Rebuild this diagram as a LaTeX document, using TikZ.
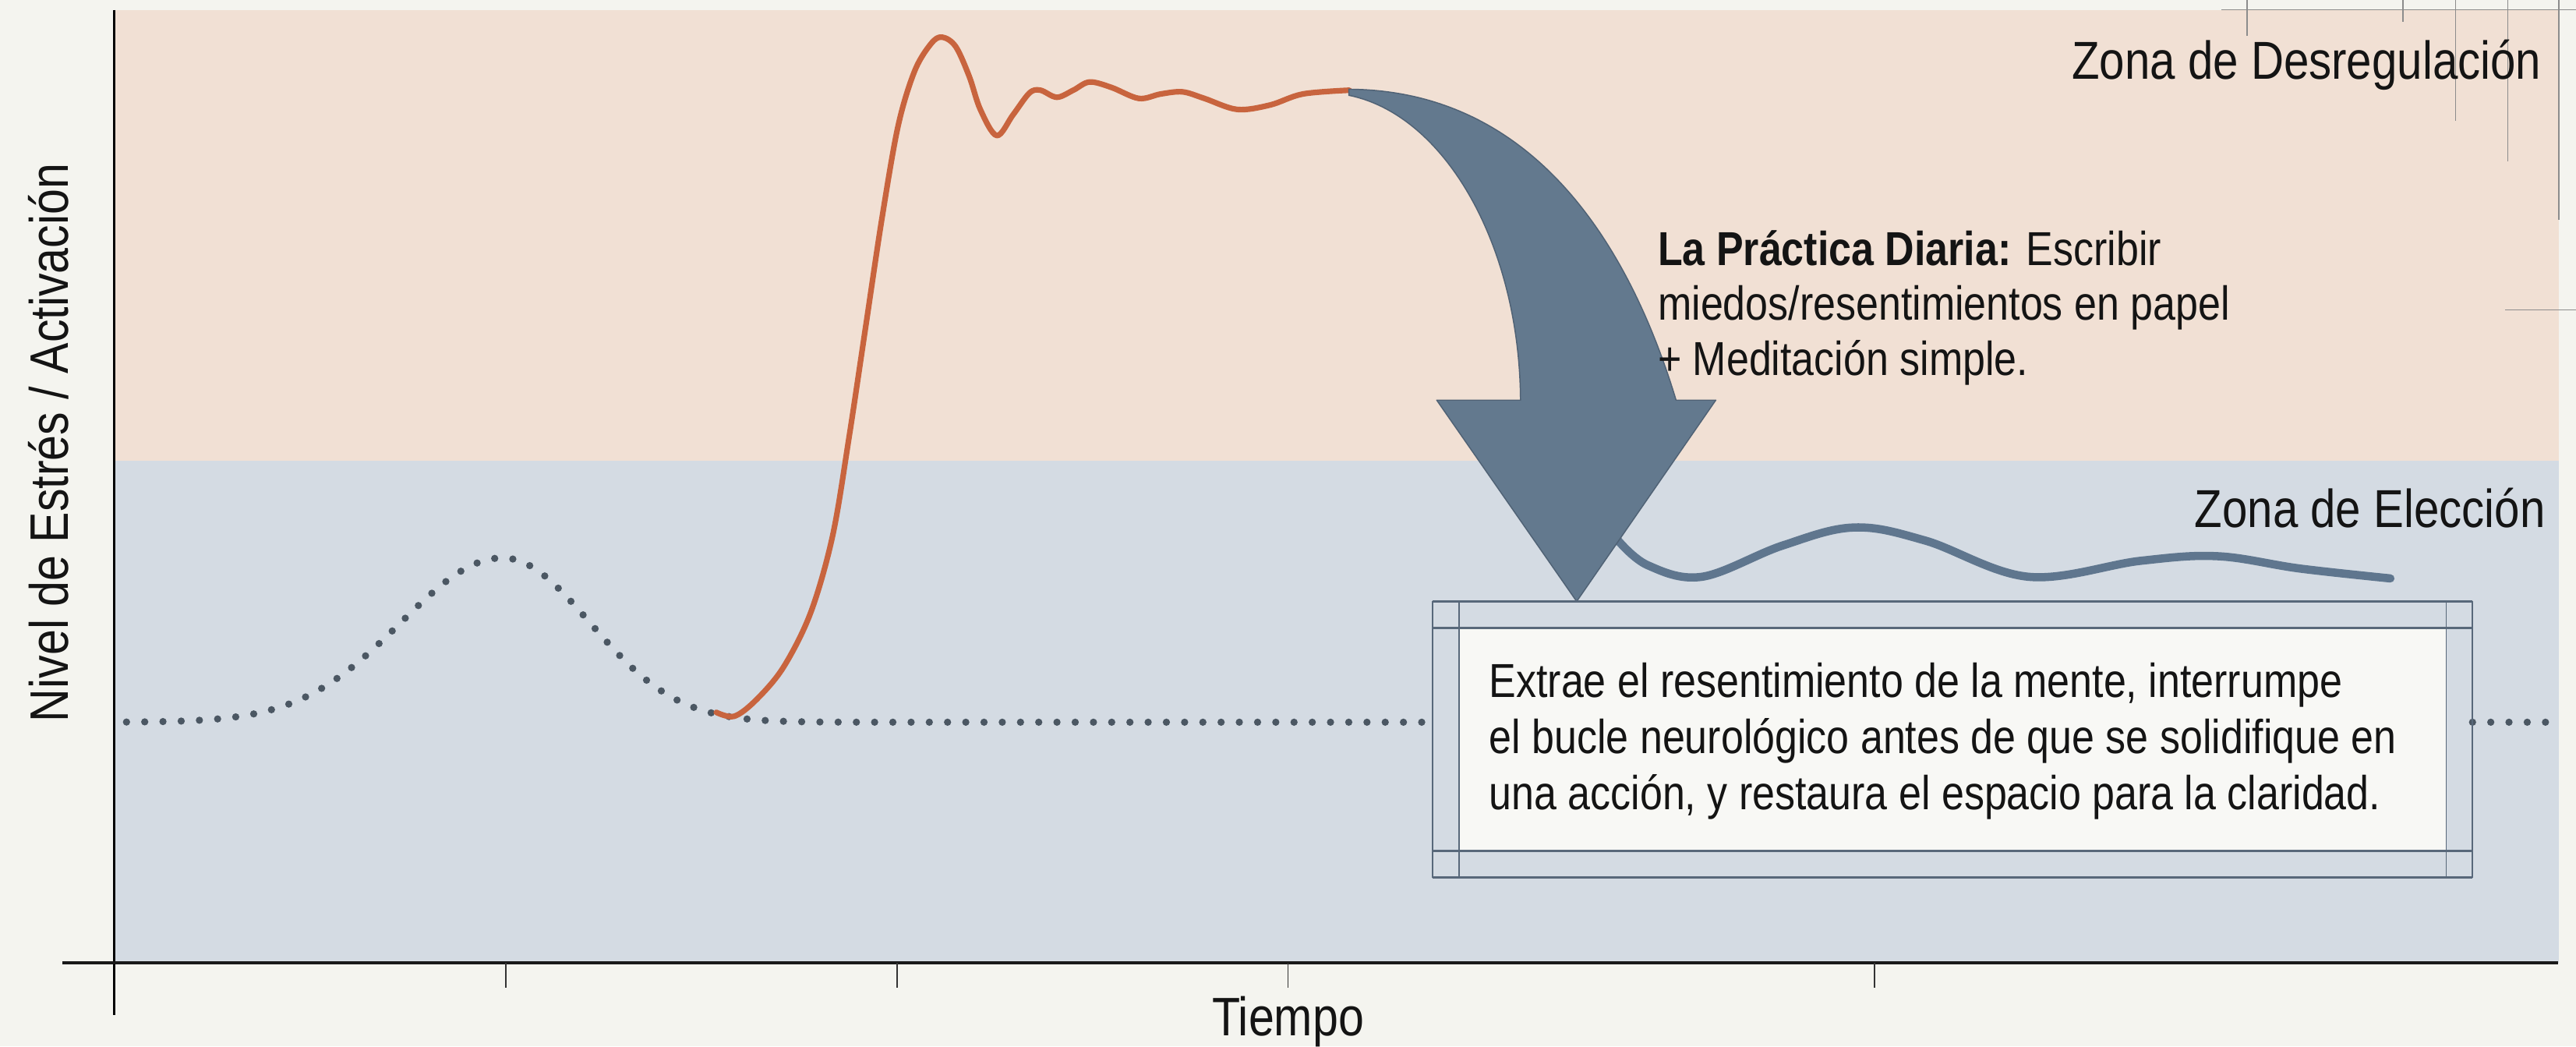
\documentclass[tikz,border=0pt]{standalone}
\usepackage{fontspec}
\setmainfont[FakeStretch=0.85]{Liberation Sans}
\definecolor{bgc}{RGB}{244,244,239}
\definecolor{peach}{RGB}{241,224,212}
\definecolor{zoneblue}{RGB}{212,219,227}
\definecolor{dotc}{RGB}{75,87,99}
\definecolor{orangec}{RGB}{200,100,62}
\definecolor{arrowc}{RGB}{99,121,142}
\definecolor{arrowedge}{RGB}{80,98,117}
\definecolor{wavec}{RGB}{95,118,142}
\definecolor{framec}{RGB}{88,104,122}
\definecolor{boxfill}{RGB}{248,248,245}
\definecolor{ink}{RGB}{20,20,20}
\definecolor{artc}{RGB}{140,140,140}
\begin{document}
\begin{tikzpicture}[x=1pt,y=-1pt,
  zonetxt/.style={font=\fontsize{32.5}{38}\selectfont, text=ink, inner sep=0pt, anchor=base east},
  annot/.style={font=\fontsize{29}{34}\selectfont, text=ink, inner sep=0pt, anchor=base west},
  axislbl/.style={font=\fontsize{33}{38}\selectfont, text=ink, inner sep=0pt, anchor=base},
  frameline/.style={draw=framec, line width=1.3pt},
  framevline/.style={draw=framec, line width=0.8pt},
  tickline/.style={draw=black!80, line width=0.7pt},
  dotline/.style={draw=dotc, line width=4.4pt, line cap=round, dash pattern=on 0pt off 11.1pt},
  stresscurve/.style={draw=orangec, line width=3.4pt, line cap=round, line join=round},
  calmwave/.style={draw=wavec, line width=5pt, line cap=round},
  arrowshape/.style={fill=arrowc, draw=arrowedge, line width=0.7pt, line join=round},
  artifact/.style={draw=artc, line width=0.7pt}
]
\useasboundingbox (0,0) rectangle (1568,636.7);
\fill[bgc] (0,0) rectangle (1568,636.7);
% zones
\fill[peach] (69.5,6) rectangle (1557.6,280.5);
\fill[zoneblue] (69.5,280.5) rectangle (1557.6,586);
% faint guide lines top right
\draw[artifact] (1352,6) -- (1568,6);
\draw[artifact] (1367.8,0) -- (1367.8,22);
\draw[artifact] (1462.7,0) -- (1462.7,13.4);
\draw[artifact] (1494.8,0) -- (1494.8,73.5);
\draw[artifact] (1526.5,0) -- (1526.5,98);
\draw[artifact] (1557.6,0) -- (1557.6,134);
\draw[artifact] (1525,188.7) -- (1568,188.7);
% baseline dotted
\draw[dotline] plot[domain=77:640, samples=160] (\x,{439.5-100*exp(-0.5*((\x-306)/(\x<306?62:53))^2)}) -- (873,439.5);
\draw[dotline] (1505,439.5) -- (1557,439.5);
% stress curve
\draw[stresscurve] plot[smooth, tension=0.55] coordinates {
 (436,433.5) (446.9,435.9) (460.2,426) (476.9,406) (493.5,372.7) (506.8,326.1) (516.8,266.2)
 (526.8,199.7) (536.8,133.1) (546.7,76.5) (556.7,43.3) (566.7,26.6) (573.4,22.6) (581.7,28.3)
 (590,46.6) (596.7,66.6) (606.7,82.5) (616.6,69.9) (626.6,56.6) (633.3,54.9) (643.3,59.2)
 (653.3,54.9) (663.2,49.9) (676.5,53.2) (693.2,59.9) (706.5,57.2) (719.8,55.9) (733.1,59.9)
 (753.1,66.6) (773.1,63.9) (793,57.2) (821.3,54.9)};
% calm wave
\draw[calmwave] plot[smooth, tension=0.6] coordinates {
 (985,329) (1003,344) (1036,351) (1085,332) (1128.5,321) (1172,329) (1234.7,351)
 (1302.8,341.3) (1350,338.5) (1400,346) (1455,352)};
% big curved arrow
\filldraw[arrowshape] (821,54.3) .. controls (940,55) and (995,160) .. (1020.2,243.5)
 -- (1044.4,243.5) -- (959.7,366) -- (874.5,243.5) -- (925.5,243.5)
 .. controls (925,150) and (880,70) .. (821,58) -- cycle;
% text box
\node[fill=boxfill, minimum width=601pt, minimum height=136pt, inner sep=0pt, anchor=north west] (box) at (888,382) {};
\draw[frameline] (872,366) -- (1505,366);
\draw[frameline] (872,382) -- (1505,382);
\draw[frameline] (872,518) -- (1505,518);
\draw[frameline] (872,534) -- (1505,534);
\draw[framevline] (872,366) -- (872,534);
\draw[framevline] (888,366) -- (888,534);
\draw[framevline] (1489,366) -- (1489,534);
\draw[framevline] (1505,366) -- (1505,534);
\node[annot] (b1) at (906.3,424.4) {Extrae el resentimiento de la mente, interrumpe};
\node[annot] (b2) at (906.3,458.4) {el bucle neurológico antes de que se solidifique en};
\node[annot] (b3) at (906.3,492.5) {una acción, y restaura el espacio para la claridad.};
% annotation
\node[annot] (p1) at (1009,161.6) {\textbf{La Práctica Diaria:} Escribir};
\node[annot] (p2) at (1009,194.6) {miedos/resentimientos en papel};
\node[annot] (p3) at (1009,228.3) {+ Meditación simple.};
% zone labels
\node[zonetxt] (zd) at (1547,48.3) {Zona de Desregulación};
\node[zonetxt] (ze) at (1549.5,320.8) {Zona de Elección};
% axes
\draw[black, line width=1.1pt] (69.5,6) -- (69.5,617.5);
\draw[black!90, line width=2.2pt] (38,586) -- (1557,586);
\foreach \t in {308,546,784,1141} \draw[tickline] (\t,586) -- (\t,601);
\node[axislbl] (xl) at (784,630.5) {Tiempo};
\node[axislbl, rotate=90] (yl) at (41.6,269.5) {Nivel de Estrés / Activación};
\end{tikzpicture}
\end{document}
